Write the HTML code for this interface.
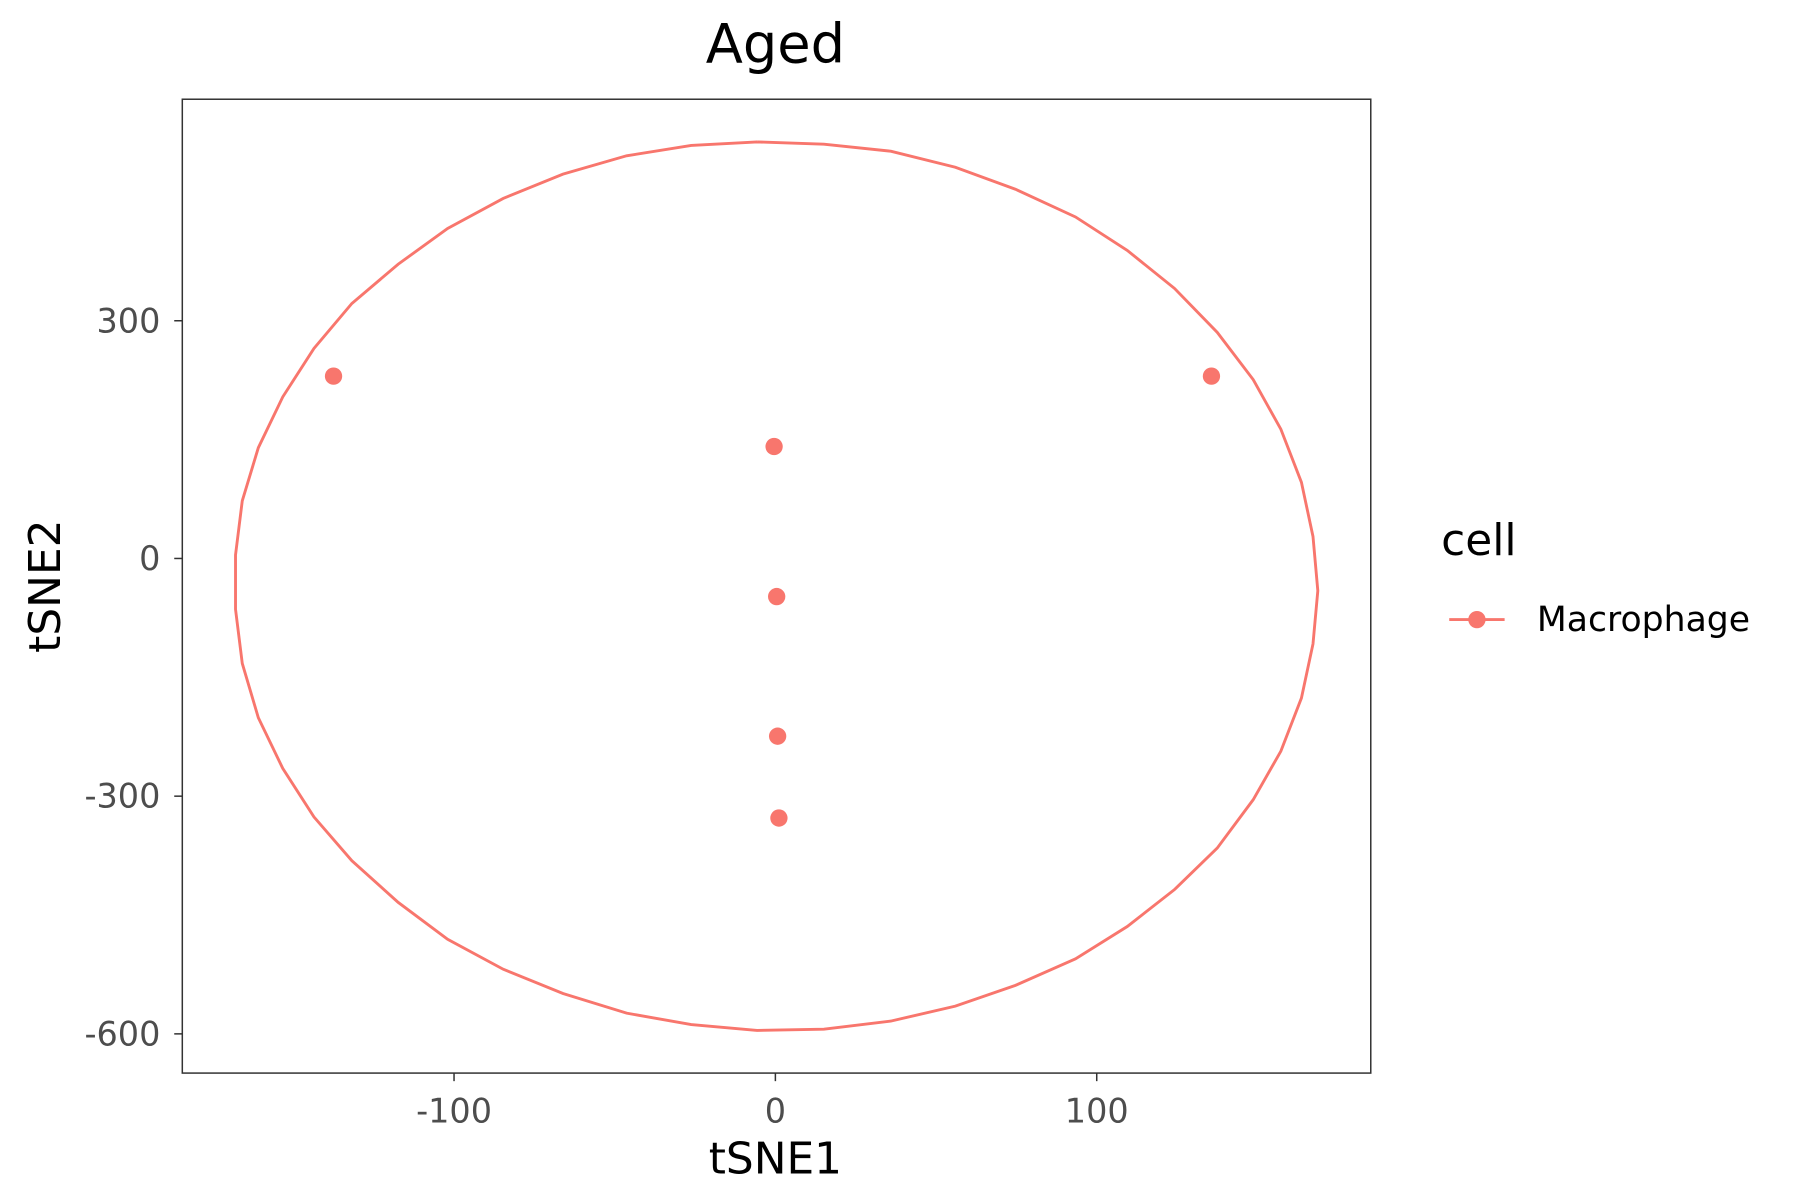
<!DOCTYPE html>
<html><head><meta charset="utf-8"><style>html,body{margin:0;padding:0;background:#fff}svg{display:block}</style></head>
<body>
<svg id="chart" width="1800" height="1200" viewBox="0 0 1560 1040" xmlns="http://www.w3.org/2000/svg" font-family="'DejaVu Sans', 'Liberation Sans', sans-serif">
<rect width="1560" height="1040" fill="#fff"/>
<text x="672" y="54" font-size="47" text-anchor="middle" fill="#000">Aged</text>
<rect x="158" y="86" width="1030" height="844" fill="none" stroke="#333" stroke-width="1.3"/>
<g id="xaxis"></g>
<g id="yaxis"></g>
<g id="marks"></g>
<text x="672" y="1017" font-size="38" text-anchor="middle" fill="#000">tSNE1</text>
<text transform="translate(52,508) rotate(-90)" font-size="38" text-anchor="middle" fill="#000">tSNE2</text>
<g>
<text x="1249" y="481" font-size="38" fill="#000">cell</text>
<g>
<line x1="1256" y1="537" x2="1304" y2="537" stroke="#F8766D" stroke-width="2.5"/>
<circle cx="1280" cy="537" r="7.5" fill="#F8766D"/>
<text x="1332" y="547" font-size="30" fill="#000">Macrophage</text>
</g></g>
</svg>
<script>
const xTicks=[-100,0,100];
const yTicks=[300,0,-300,-600];
const ellipseX=[-5.7,15.1,35.9,56.0,74.7,93.4,109.5,124.2,137.5,148.7,157.3,163.7,167.3,168.8,167.3,163.7,157.3,148.7,137.5,124.2,109.5,93.4,74.7,56.0,35.9,15.1,-5.7,-26.2,-46.3,-66.1,-84.7,-102.0,-117.4,-131.8,-143.6,-153.3,-160.9,-165.9,-168.0,-168.0,-165.9,-160.9,-153.3,-143.6,-131.8,-117.4,-102.0,-84.7,-66.1,-46.3,-26.2,-5.7];
const ellipseY=[525.7,522.8,514.0,493.7,466.0,431.0,388.8,340.8,285.4,225.7,163.1,96.1,27.7,-40.8,-107.8,-176.2,-243.2,-304.4,-365.5,-417.9,-464.5,-505.3,-538.8,-565.0,-583.9,-594.1,-595.6,-588.3,-573.8,-549.0,-518.4,-480.6,-434.0,-381.5,-326.2,-265.0,-201.0,-132.5,-64.1,4.4,72.8,139.8,203.9,265.0,321.8,371.3,416.5,454.4,485.0,508.2,521.3,525.7];
const pointX=[-137.5,135.7,-0.4,0.4,0.7,1.1];
const pointY=[230.1,230.1,141.3,-48.1,-224.3,-327.6];
const sx=v=>672+v*2.785;
const sy=v=>484-v*0.6867;
const NS='http://www.w3.org/2000/svg';
function mk(t,a,p){const e=document.createElementNS(NS,t);for(const k in a)e.setAttribute(k,a[k]);p.appendChild(e);return e;}
const xa=document.getElementById('xaxis'),ya=document.getElementById('yaxis'),mg=document.getElementById('marks');
xTicks.forEach(t=>{
  const g=mk('g',{},xa);
  
  
  mk('line',{x1:sx(t),x2:sx(t),y1:930,y2:937,stroke:'#333','stroke-width':1.3},g);
  const tx=mk('text',{x:sx(t),y:973,'font-size':29,'text-anchor':'middle',fill:'#4d4d4d'},g);tx.textContent=t;
});
yTicks.forEach(t=>{
  const g=mk('g',{},ya);
  
  
  mk('line',{x1:151,x2:158,y1:sy(t),y2:sy(t),stroke:'#333','stroke-width':1.3},g);
  const tx=mk('text',{x:139,y:sy(t)+10,'font-size':29,'text-anchor':'end',fill:'#4d4d4d'},g);tx.textContent=t;
});
const path=mk('path',{d:ellipseX.map((x,i)=>(i?'L':'M')+sx(x)+','+sy(ellipseY[i])).join(' '),fill:'none',stroke:'#F8766D','stroke-width':2.5},mg);


pointX.forEach((x,i)=>{
  const c=mk('circle',{cx:sx(x),cy:sy(pointY[i]),r:7.5,fill:'#F8766D'},mg);
  
  
});
</script>
</body></html>
